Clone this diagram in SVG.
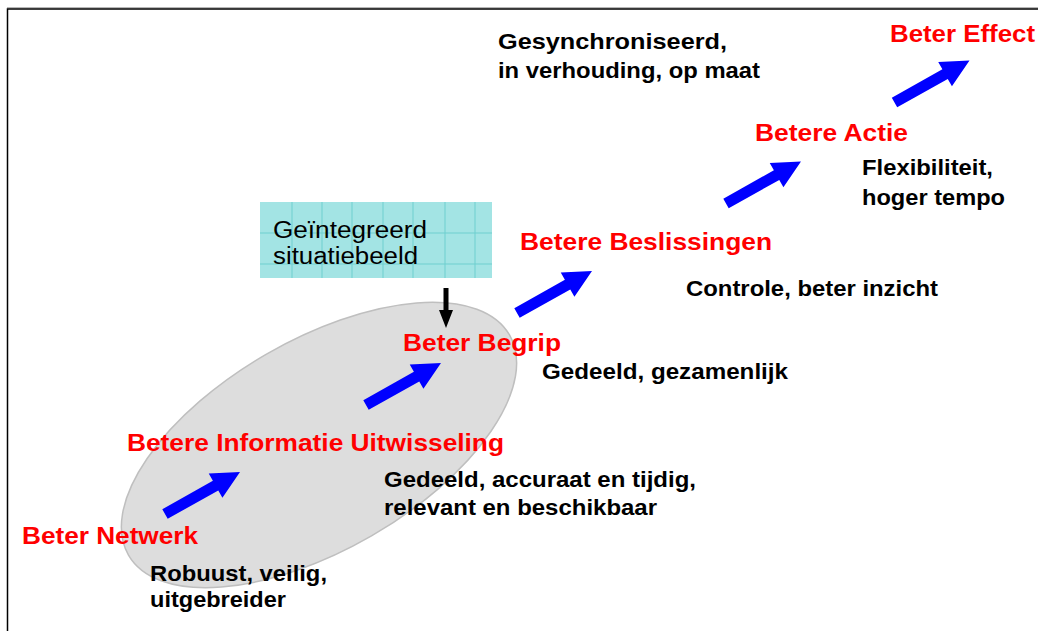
<svg xmlns="http://www.w3.org/2000/svg" width="1038" height="631" viewBox="0 0 1038 631">
<style>
.red{font-family:"Liberation Sans",Arial,sans-serif;font-weight:bold;font-size:24px;fill:#ff0000}
.blk{font-family:"Liberation Sans",Arial,sans-serif;font-weight:bold;font-size:21.5px;fill:#000}
.reg{font-family:"Liberation Sans",Arial,sans-serif;font-size:23px;fill:#000}
.grid{stroke:#6fcfcf;stroke-width:1}
</style>
<defs>
<path id="barrow" d="M0,-5.5 L58,-5.5 L58,-14 L86,0 L58,14 L58,5.5 L0,5.5 Z" fill="#0000ff"/>
</defs>
<rect width="1038" height="631" fill="#fff"/>
<line x1="7" y1="7.8" x2="1038" y2="7.8" stroke="#999" stroke-width="1"/>
<path d="M7.5,631 V9 H1038" fill="none" stroke="#000" stroke-width="1.5"/>
<g id="ellipse">
<ellipse cx="319" cy="445" rx="220" ry="105" transform="rotate(-30 319 445)" fill="#dddddd" stroke="#bfbfbf" stroke-width="1.5"/>
</g>
<g id="situatiebeeld">
<rect x="260" y="202" width="232" height="76" fill="#a3e4e4"/>
<g class="grid">
<line x1="292" y1="202" x2="292" y2="278"/><line x1="322" y1="202" x2="322" y2="278"/><line x1="352" y1="202" x2="352" y2="278"/><line x1="383" y1="202" x2="383" y2="278"/><line x1="413" y1="202" x2="413" y2="278"/><line x1="445" y1="202" x2="445" y2="278"/><line x1="475" y1="202" x2="475" y2="278"/>
<line x1="260" y1="233" x2="492" y2="233"/><line x1="260" y1="264" x2="492" y2="264"/>
</g>
<text class="reg" x="273" y="238" textLength="154" lengthAdjust="spacingAndGlyphs">Geïntegreerd</text>
<text class="reg" x="273" y="264" textLength="145" lengthAdjust="spacingAndGlyphs">situatiebeeld</text>
</g>
<g id="netwerk">
<text class="red" x="22" y="544" textLength="176" lengthAdjust="spacingAndGlyphs">Beter Netwerk</text>
<text class="blk" x="150" y="581" textLength="177" lengthAdjust="spacingAndGlyphs">Robuust, veilig,</text>
<text class="blk" x="150" y="607" textLength="136" lengthAdjust="spacingAndGlyphs">uitgebreider</text>
</g>
<g id="informatie">
<text class="red" x="127" y="451" textLength="377" lengthAdjust="spacingAndGlyphs">Betere Informatie Uitwisseling</text>
<text class="blk" x="384" y="487" textLength="312" lengthAdjust="spacingAndGlyphs">Gedeeld, accuraat en tijdig,</text>
<text class="blk" x="384" y="515" textLength="273" lengthAdjust="spacingAndGlyphs">relevant en beschikbaar</text>
</g>
<g id="begrip">
<text class="red" x="403" y="351" textLength="158" lengthAdjust="spacingAndGlyphs">Beter Begrip</text>
<text class="blk" x="542" y="379" textLength="246" lengthAdjust="spacingAndGlyphs">Gedeeld, gezamenlijk</text>
</g>
<g id="beslissingen">
<text class="red" x="520" y="250" textLength="252" lengthAdjust="spacingAndGlyphs">Betere Beslissingen</text>
<text class="blk" x="686" y="296" textLength="252" lengthAdjust="spacingAndGlyphs">Controle, beter inzicht</text>
</g>
<g id="actie">
<text class="red" x="755" y="141" textLength="153" lengthAdjust="spacingAndGlyphs">Betere Actie</text>
<text class="blk" x="862" y="175" textLength="131" lengthAdjust="spacingAndGlyphs">Flexibiliteit,</text>
<text class="blk" x="862" y="205" textLength="143" lengthAdjust="spacingAndGlyphs">hoger tempo</text>
</g>
<g id="effect">
<text class="red" x="890" y="42" textLength="145" lengthAdjust="spacingAndGlyphs">Beter Effect</text>
<text class="blk" x="498" y="49" textLength="229" lengthAdjust="spacingAndGlyphs">Gesynchroniseerd,</text>
<text class="blk" x="498" y="78" textLength="262" lengthAdjust="spacingAndGlyphs">in verhouding, op maat</text>
</g>
<g id="connectors">
<use href="#barrow" transform="translate(165,514) rotate(-29.3)"/>
<use href="#barrow" transform="translate(366,405) rotate(-29.3)"/>
<use href="#barrow" transform="translate(517,313) rotate(-29.3)"/>
<use href="#barrow" transform="translate(726,203.5) rotate(-29.3)"/>
<use href="#barrow" transform="translate(894.5,102.5) rotate(-29.3)"/>
<path d="M443.5,288 H448.5 V310 H453 L446,328 L439,310 H443.5 Z" fill="#000"/>
</g>
</svg>
